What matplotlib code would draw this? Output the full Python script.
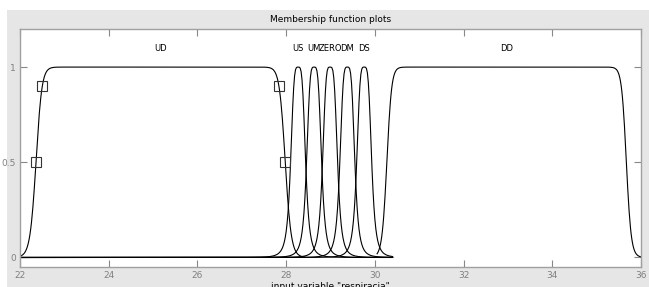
import numpy as np
import matplotlib
matplotlib.use("Agg")
import matplotlib.pyplot as plt
from matplotlib.patches import Rectangle

# membership functions (generalized bell): name, width a, slope b, centre c, plotted span
mf_names = ["UD", "US", "UM", "ZERO", "DM", "DS", "DD"]
mf_a = [2.81, 0.17, 0.17, 0.17, 0.17, 0.17, 2.70]
mf_b = [21, 2, 2, 2, 2, 2, 25]
mf_c = [25.17, 28.27, 28.63, 28.99, 29.38, 29.76, 32.97]
mf_lo = [22.0, 22.0, 22.0, 22.0, 22.0, 22.0, 30.05]
mf_hi = [28.43, 30.4, 30.4, 30.4, 30.4, 30.4, 36.0]

# selected-MF handles (squares) on UD
sq_x = [22.36, 22.50, 27.84, 27.98]
sq_y = [0.5, 0.9, 0.9, 0.5]

x_ticks = [22, 24, 26, 28, 30, 32, 34, 36]
y_ticks = [0, 0.5, 1]
y_ticklabels = ["0", "0.5", "1"]


def gbell(x, a, b, c):
    return 1.0 / (1.0 + np.abs((x - c) / a) ** (2 * b))


fig = plt.figure(figsize=(6.49, 2.87), dpi=100, facecolor="white")
# grey figure panel like the MATLAB window
fig.add_artist(Rectangle((7 / 649, 0), 1, 1 - 10 / 287, transform=fig.transFigure,
                         facecolor="#e6e6e6", edgecolor="none", zorder=-10))

ax = fig.add_axes([20 / 649, 1 - 267 / 287, 621 / 649, 238 / 287])
ax.set_zorder(1)
ax.set_facecolor("white")

for name, a, b, c, lo, hi in zip(mf_names, mf_a, mf_b, mf_c, mf_lo, mf_hi):
    xs = np.linspace(lo, hi, 400)
    ax.plot(xs, gbell(xs, a, b, c), color="black", lw=0.8)
    ax.text(c, 1.10, name, ha="center", va="center", fontsize=6, color="black")

ax.plot(sq_x, sq_y, linestyle="none", marker="s", markersize=6.5,
        markerfacecolor="none", markeredgecolor="#333333", markeredgewidth=0.8)

ax.set_xlim(22, 36)
ax.set_ylim(-0.05, 1.2)
ax.set_xticks(x_ticks)
ax.set_yticks(y_ticks)
ax.set_yticklabels(y_ticklabels)
ax.tick_params(direction="in", length=5, width=0.8, color="#888888", labelcolor="#808080",
               labelsize=6.5, top=True, right=True, pad=3)
for s in ax.spines.values():
    s.set_color("#a0a0a0")
    s.set_linewidth(1.0)

ax.set_title("Membership function plots", fontsize=6.5, color="black", pad=5)
ax.set_xlabel('input variable "respiracia"', fontsize=6.5, color="black", labelpad=1)

fig.savefig("out.png", dpi=100, facecolor=fig.get_facecolor())
